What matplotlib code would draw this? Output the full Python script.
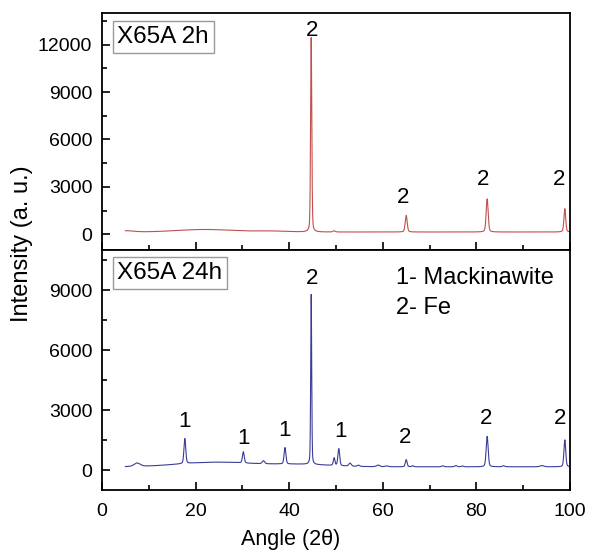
import numpy as np
import matplotlib.pyplot as plt

plt.rcParams['font.family'] = ['Liberation Sans', 'DejaVu Sans']

# peak positions (2theta), heights and widths
pos_2h = [44.7, 49.6, 65.0, 82.3, 98.9]
hgt_2h = [12300, 70, 1050, 2100, 1480]
wid_2h = [0.30, 0.6, 0.5, 0.5, 0.45]
bg_2h = 140
hump_2h = [(5.0, 80, 4.0), (22.0, 160, 14.0), (36.0, 60, 8.0)]

pos_24h = [7.5, 17.7, 30.2, 34.5, 39.1, 44.7, 49.6, 50.6, 53.0, 54.8, 59.0, 60.8,
           65.0, 66.4, 72.8, 75.6, 77.0, 82.3, 85.8, 94.0, 98.9]
hgt_24h = [170, 1250, 560, 150, 820, 8500, 380, 850, 150, 60, 80, 40,
           360, 50, 50, 60, 40, 1520, 50, 60, 1350]
wid_24h = [1.5, 0.45, 0.45, 0.6, 0.45, 0.25, 0.4, 0.45, 0.6, 0.6, 0.8, 0.8,
           0.45, 0.5, 0.6, 0.6, 0.5, 0.5, 0.6, 1.0, 0.45]
bg_24h = 160
hump_24h = [(24.0, 230, 18.0), (42.0, 120, 16.0)]

lab_2h = [("2", 44.8, 12900), ("2", 64.3, 2330), ("2", 81.4, 3460), ("2", 97.6, 3460)]
lab_24h = [("1", 17.7, 2420), ("1", 30.2, 1580), ("1", 39.1, 2000), ("2", 44.8, 9600),
           ("1", 51.0, 1920), ("2", 64.7, 1630), ("2", 82.1, 2580), ("2", 97.9, 2580)]


def pattern(x, pos, hgt, wid, bg, humps):
    y = np.full_like(x, bg, dtype=float)
    for c, h, w in humps:
        y += h * np.exp(-4 * np.log(2) * ((x - c) / w) ** 2)
    for c, h, w in zip(pos, hgt, wid):
        g = np.exp(-4 * np.log(2) * ((x - c) / w) ** 2)
        l = 1 / (1 + ((x - c) / (w / 2)) ** 2)
        y += h * (0.7 * g + 0.3 * l)
    return y


x = np.arange(5, 100.001, 0.01)
y2 = pattern(x, pos_2h, hgt_2h, wid_2h, bg_2h, hump_2h)
y24 = pattern(x, pos_24h, hgt_24h, wid_24h, bg_24h, hump_24h)

fig = plt.figure(figsize=(5.89, 5.54), dpi=100)
ax1 = fig.add_axes([0.1732, 0.5487, 0.7945, 0.4278])
ax2 = fig.add_axes([0.1732, 0.1155, 0.7945, 0.4332])

ax1.plot(x, y2, color="#c0504d", lw=0.8)
ax2.plot(x, y24, color="#3c3c96", lw=0.8)

for ax in (ax1, ax2):
    ax.set_xlim(0, 100)
    ax.set_xticks([0, 20, 40, 60, 80, 100])
    ax.set_xticks(np.arange(10, 100, 20), minor=True)
    ax.tick_params(which="both", direction="in", top=False, right=False,
                   labelsize=14, width=1.2)
    ax.tick_params(which="major", length=6)
    ax.tick_params(which="minor", length=3.5)
    ax.tick_params(axis="y", which="major", pad=7)
    ax.tick_params(axis="x", which="major", pad=9)
    for s in ax.spines.values():
        s.set_linewidth(1.3)

ax1.set_ylim(-1000, 14000)
ax1.set_yticks([0, 3000, 6000, 9000, 12000])
ax1.set_yticks(np.arange(1500, 14000, 3000), minor=True)
ax1.tick_params(labelbottom=False)

ax2.set_ylim(-1000, 11000)
ax2.set_yticks([0, 3000, 6000, 9000])
ax2.set_yticks(np.arange(1500, 11000, 3000), minor=True)

box = dict(boxstyle="square,pad=0.2", fc="white", ec="#999999", lw=1)
ax1.text(0.033, 0.945, "X65A 2h", transform=ax1.transAxes, fontsize=17.5,
         va="top", ha="left", bbox=box)
ax2.text(0.033, 0.95, "X65A 24h", transform=ax2.transAxes, fontsize=17.5,
         va="top", ha="left", bbox=box)

for t, xx, yy in lab_2h:
    ax1.text(xx, yy, t, fontsize=16, ha="center", va="center")
for t, xx, yy in lab_24h:
    ax2.text(xx, yy, t, fontsize=16, ha="center", va="center")

ax2.text(62.8, 9600, "1- Mackinawite", fontsize=17, ha="left", va="center")
ax2.text(62.8, 8100, "2- Fe", fontsize=17, ha="left", va="center")

fig.text(0.494, 0.027, "Angle (2\u03b8)", fontsize=15.5, ha="center", va="center")
fig.text(0.037, 0.561, "Intensity (a. u.)", rotation=90, fontsize=17,
         ha="center", va="center")

fig.savefig("out.png", dpi=100)
